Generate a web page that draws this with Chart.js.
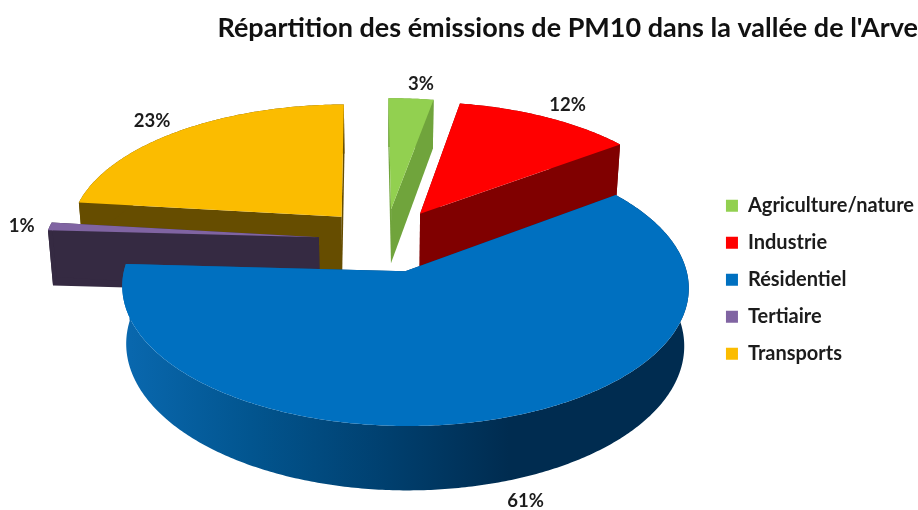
<!DOCTYPE html>
<html lang="fr"><head><meta charset="utf-8">
<style>html,body{margin:0;padding:0;background:#fff}canvas{display:block;filter:blur(0.6px)}</style>
<script src="https://cdn.jsdelivr.net/npm/chart.js@4"></script>
</head><body><canvas id="c" width="918" height="510"></canvas>
<script>
const categories = ["Agriculture/nature","Industrie","Résidentiel","Tertiaire","Transports"];
const shares = [3,12,61,1,23];
const topColors = ["#92d050","#ff0000","#0070c0","#8064a2","#fbbc00"];
const wallColors = ["#70a43c","#800000",null,"#352a42","#664d00"];
const chartTitle = "Répartition des émissions de PM10 dans la vallée de l'Arve";

const TILT=0.474, PERSP=0.112, DEPTH=55.5, SHRINK=0.985;
const paintOrder=[0,1,4,3,2];
const labelNudge=[[10,-15],[21,-12],[27,82],[-28,0],[-27,-10]];
const FONT='Lato, "Open Sans", sans-serif';

function projector(arc){
  const A=arc.outerRadius, e=arc.options.offset/A;
  const t0=arc.startAngle+Math.PI/2, t1=arc.endAngle+Math.PI/2, mid=(t0+t1)/2;
  const eu=e*Math.sin(mid), ev=e*Math.cos(mid);
  const pt=(r,t,z)=>{
    const u=eu+r*Math.sin(t), v=ev+r*Math.cos(t), w=1+PERSP*v;
    return [arc.x+A*u/w*(z?SHRINK:1), arc.y-A*TILT*v/w+(z?DEPTH/w:0)];
  };
  return {pt,t0,t1,mid,A};
}
function poly(ctx,pts,fill){
  ctx.beginPath();pts.forEach((p,i)=>i?ctx.lineTo(p[0],p[1]):ctx.moveTo(p[0],p[1]));
  ctx.closePath();ctx.fillStyle=fill;ctx.fill();
}
const pie3d={id:'pie3d',
  afterLayout(chart){
    const l=chart.legend; l.left+=6; l.right+=6; l.top+=62; l.bottom+=62;
  },
  beforeDatasetsDraw(chart){
    const ctx=chart.ctx, arcs=chart.getDatasetMeta(0).data;
    ctx.save();
    for(const i of paintOrder){
      const arc=arcs[i], P=projector(arc), n=Math.max(2,Math.ceil((P.t1-P.t0)*90));
      const top=[],bot=[];
      for(let k=0;k<=n;k++){const t=P.t0+(P.t1-P.t0)*k/n;top.push(P.pt(1,t,0));bot.push(P.pt(1,t,1));}
      let wall=wallColors[i];
      if(!wall){
        wall=ctx.createLinearGradient(arc.x-P.A,0,arc.x+P.A*0.45,0);
        wall.addColorStop(0,"#0a6ab2");wall.addColorStop(0.35,"#02558f");
        wall.addColorStop(0.7,"#003f6e");wall.addColorStop(1,"#002c50");
      }
      const tip=P.pt(0,0,0), tipB=P.pt(0,0,1);
      poly(ctx,[tip,top[0],bot[0],tipB],wall);
      poly(ctx,[...top,...bot.slice().reverse()],wall);
      poly(ctx,[tip,top[n],bot[n],tipB],wall);
      poly(ctx,[tip,...top],arc.options.backgroundColor);
    }
    ctx.restore();
    return false;
  },
  afterDraw(chart){
    const ctx=chart.ctx, arcs=chart.getDatasetMeta(0).data;
    ctx.save();
    ctx.font='bold 18.5px '+FONT;ctx.fillStyle='#1c1c1c';ctx.textAlign='center';ctx.textBaseline='middle';
    arcs.forEach((arc,i)=>{
      const P=projector(arc), q=P.pt(1,P.mid,0);
      ctx.fillText(shares[i]+'%',q[0]+labelNudge[i][0],q[1]+labelNudge[i][1]);
    });
    ctx.restore();
  }
};
new Chart(document.getElementById('c'),{
  type:'pie',
  data:{labels:categories,datasets:[{data:shares,backgroundColor:topColors,borderWidth:0,offset:67}]},
  options:{
    responsive:false,animation:false,rotation:-0.5,radius:274,
    layout:{padding:{left:68,bottom:74.4}},
    plugins:{
      tooltip:{enabled:false},
      title:{display:true,text:chartTitle,align:'end',color:'#111',font:{family:FONT,size:27,weight:'bold'},padding:{top:12,bottom:0}},
      legend:{position:'right',labels:{boxWidth:12,boxHeight:12,padding:17,color:'#1c1c1c',font:{family:FONT,size:20,weight:'bold'}}}
    }
  },
  plugins:[pie3d]
});
</script></body></html>
